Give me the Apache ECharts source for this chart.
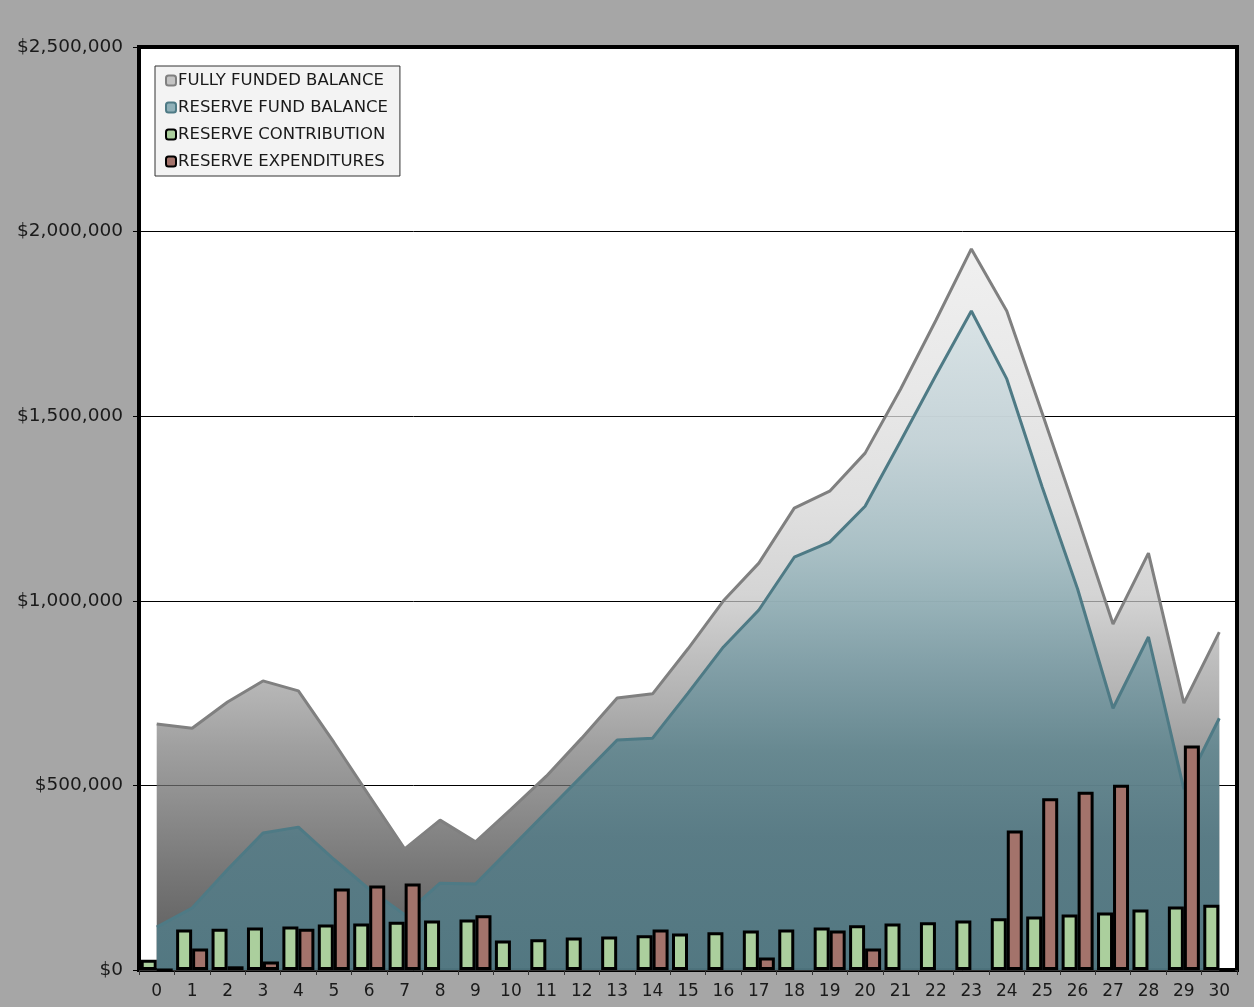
<!DOCTYPE html>
<html>
<head>
<meta charset="utf-8">
<title>Reserve Fund</title>
<script src="https://cdn.jsdelivr.net/npm/echarts@6.0.0/dist/echarts.min.js"></script>
<style>
  html, body { margin: 0; padding: 0; background: #a6a6a6; }
  #chart { width: 1254px; height: 1007px; }
</style>
</head>
<body>
<div id="chart"></div>
<script>
// 年份 0..30
const years = ['0','1','2','3','4','5','6','7','8','9','10','11','12','13','14','15','16','17','18','19','20','21','22','23','24','25','26','27','28','29','30']

const fullyFunded = [666000, 655000, 726000, 783000, 756000, 617000, 472000, 328000, 406000, 347000,
  435000, 525000, 628000, 737000, 748000, 870000, 1000000, 1102000, 1251000, 1297000,
  1400000, 1573000, 1760000, 1953000, 1785000, 1508000, 1226000, 937000, 1129000, 723000, 915000]

const reserveFund = [116000, 168000, 272000, 371000, 387000, 300000, 219000, 150000, 235000, 233000,
  330000, 428000, 525000, 623000, 628000, 750000, 875000, 975000, 1118000, 1159000,
  1256000, 1432000, 1611000, 1785000, 1601000, 1308000, 1032000, 709000, 902000, 490000, 682000]

const contribution = [28000, 110000, 112000, 115000, 118000, 123000, 126000, 131000, 134000, 137000,
  80000, 83000, 88000, 91000, 94000, 99000, 102000, 107000, 110000, 115000,
  121000, 126000, 129000, 134000, 140000, 145000, 150000, 156000, 164000, 172000, 177000]

const expenditures = [0, 58000, 10000, 23000, 112000, 221000, 229000, 234000, null, 148000,
  null, null, null, null, 110000, null, null, 34000, null, 107000,
  58000, null, null, null, 378000, 465000, 483000, 502000, null, 608000, 0]

const yTicks = [0, 500000, 1000000, 1500000, 2000000, 2500000]

const chartInstance = echarts.init(document.getElementById('chart'))

const font = '"DejaVu Sans", Verdana, sans-serif'

const option = {
  backgroundColor: '#a6a6a6',
  animation: false,
  grid: {
    left: 139,
    right: 17,
    top: 47,
    bottom: 37,
    show: true,
    backgroundColor: '#ffffff',
    borderColor: '#000000',
    borderWidth: 4
  },
  legend: {
    orient: 'vertical',
    left: 155,
    top: 66,
    backgroundColor: '#f3f3f3',
    borderColor: '#333333',
    borderWidth: 1,
    borderRadius: 0,
    padding: [6, 12, 6, 10],
    itemGap: 10,
    itemWidth: 10,
    itemHeight: 10,
    icon: 'roundRect',
    textStyle: { fontFamily: font, fontSize: 16.5, color: '#1a1a1a', lineHeight: 17, padding: [0, 0, 0, -3] },
    data: [
      { name: 'FULLY FUNDED BALANCE', itemStyle: { color: '#c4c4c4', borderColor: '#808080', borderWidth: 2 } },
      { name: 'RESERVE FUND BALANCE', itemStyle: { color: '#8fb0b8', borderColor: '#4e7a85', borderWidth: 2 } },
      { name: 'RESERVE CONTRIBUTION', itemStyle: { color: '#abcf9d', borderColor: '#000000', borderWidth: 2 } },
      { name: 'RESERVE EXPENDITURES', itemStyle: { color: '#a3736b', borderColor: '#000000', borderWidth: 2 } }
    ]
  },
  xAxis: {
    type: 'category',
    data: years,
    axisLine: { show: true, lineStyle: { color: '#333333', width: 1 } },
    axisTick: { show: true, length: 5, lineStyle: { color: '#333333' } },
    axisLabel: { fontFamily: font, fontSize: 17, color: '#1a1a1a', margin: 13 },
    splitLine: { show: false }
  },
  yAxis: {
    type: 'value',
    min: 0,
    max: yTicks[yTicks.length - 1],
    interval: yTicks[1],
    axisLine: { show: false },
    axisTick: { show: true, length: 6, lineStyle: { color: '#000000' } },
    axisLabel: {
      fontFamily: font,
      fontSize: 18.5,
      color: '#1a1a1a',
      margin: 16,
      formatter: v => '$' + v.toLocaleString('en-US')
    },
    splitLine: { show: true, lineStyle: { color: '#000000', width: 1 } }
  },
  series: [
    {
      name: 'FULLY FUNDED BALANCE',
      type: 'line',
      data: fullyFunded,
      symbol: 'none',
      lineStyle: { color: '#808080', width: 3 },
      itemStyle: { color: '#808080' },
      areaStyle: {
        opacity: 0.75,
        // 渐变: 顶部浅灰, 底部深灰
        color: new echarts.graphic.LinearGradient(0, 0, 0, 1, [
          { offset: 0, color: '#ebebeb' },
          { offset: 0.2, color: '#e0e0e0' },
          { offset: 0.35, color: '#d6d6d6' },
          { offset: 0.48, color: '#c6c6c6' },
          { offset: 0.57, color: '#a8a8a8' },
          { offset: 0.63, color: '#969696' },
          { offset: 0.69, color: '#808080' },
          { offset: 0.76, color: '#6b6b6b' },
          { offset: 0.87, color: '#484848' },
          { offset: 1, color: '#222222' }
        ])
      },
      z: 2
    },
    {
      name: 'RESERVE FUND BALANCE',
      type: 'line',
      data: reserveFund,
      symbol: 'none',
      lineStyle: { color: '#4e7a85', width: 3 },
      itemStyle: { color: '#4e7a85' },
      areaStyle: {
        opacity: 0.9,
        color: new echarts.graphic.LinearGradient(0, 0, 0, 1, [
          { offset: 0, color: '#d7e2e5' },
          { offset: 0.2, color: '#c1d1d6' },
          { offset: 0.36, color: '#a4bdc3' },
          { offset: 0.45, color: '#8fadb4' },
          { offset: 0.55, color: '#799aa3' },
          { offset: 0.67, color: '#61868f' },
          { offset: 0.8, color: '#557b86' },
          { offset: 1, color: '#527b86' }
        ])
      },
      z: 2
    },
    {
      name: 'RESERVE CONTRIBUTION',
      type: 'bar',
      data: contribution,
      barWidth: 16,
      barGap: '0%',
      itemStyle: { color: '#abcf9d', borderColor: '#000000', borderWidth: 3 },
      z: 3
    },
    {
      name: 'RESERVE EXPENDITURES',
      type: 'bar',
      data: expenditures,
      barWidth: 16,
      barGap: '0%',
      itemStyle: { color: '#a3736b', borderColor: '#000000', borderWidth: 3 },
      z: 3
    }
  ]
}

chartInstance.setOption(option)
</script>
</body>
</html>
